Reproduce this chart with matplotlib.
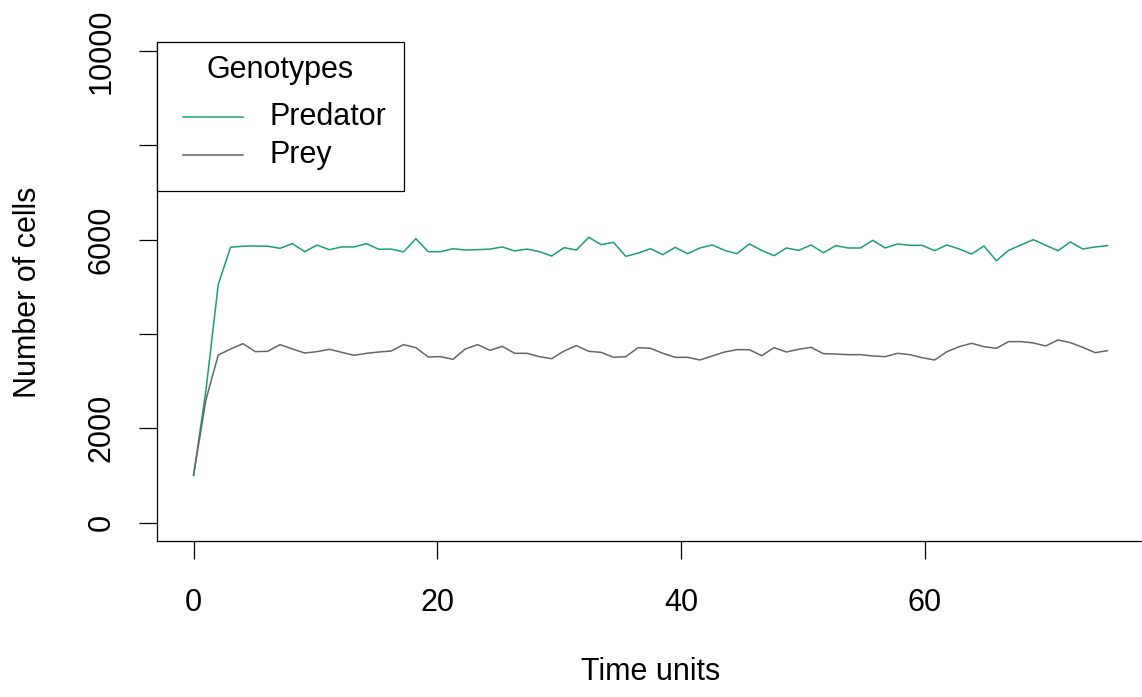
import numpy as np
import matplotlib
matplotlib.use("Agg")
import matplotlib.pyplot as plt
from matplotlib.patches import Rectangle
from matplotlib.lines import Line2D

plt.rcParams['font.family'] = ['Liberation Sans', 'DejaVu Sans']

# 75 samples spread evenly over 0..75 time units
t_start, t_end, n_samples = 0, 75, 75
time_units = np.linspace(t_start, t_end, n_samples)

predator = [1000, 2800, 5050, 5840, 5860, 5865, 5860, 5815, 5915, 5745,
            5885, 5787, 5845, 5845, 5915, 5795, 5800, 5740, 6020, 5745,
            5745, 5808, 5780, 5787, 5800, 5845, 5760, 5800, 5745, 5652,
            5830, 5780, 6050, 5894, 5943, 5645, 5715, 5808, 5681, 5837,
            5702, 5823, 5887, 5773, 5702, 5908, 5773, 5660, 5823, 5773,
            5887, 5723, 5872, 5823, 5823, 5985, 5823, 5908, 5879, 5879,
            5766, 5887, 5802, 5695, 5865, 5553, 5773, 5887, 6000, 5879,
            5766, 5951, 5802, 5844, 5872]

prey = [1000, 2600, 3553, 3680, 3794, 3624, 3631, 3773, 3680, 3596,
        3624, 3674, 3610, 3546, 3589, 3617, 3638, 3773, 3709, 3511,
        3518, 3461, 3680, 3773, 3652, 3737, 3589, 3589, 3518, 3475,
        3638, 3752, 3631, 3610, 3504, 3518, 3709, 3695, 3589, 3504,
        3504, 3447, 3532, 3617, 3666, 3666, 3539, 3709, 3617, 3674,
        3716, 3582, 3574, 3560, 3560, 3532, 3518, 3589, 3560, 3496,
        3447, 3624, 3730, 3801, 3730, 3695, 3837, 3837, 3809, 3745,
        3872, 3815, 3716, 3603, 3645]

series_names = ['Predator', 'Prey']
series_colors = ['#1B9E77', '#666666']

x_ticks = [0, 20, 40, 60]
y_ticks = [0, 2000, 6000, 10000]
y_minor = [4000, 8000]   # ticks without labels (R drops overlapping ones)

W, H = 1142, 697
fig = plt.figure(figsize=(W / 100, H / 100), dpi=100)


def px(x, y):
    """pixel position (from top-left) -> figure fraction"""
    return x / W, (H - y) / H


# axes box in pixel coordinates: left 157, right 1144, top 42, bottom 541
ax = fig.add_axes([157 / W, (H - 541) / H, (1144 - 157) / W, (541 - 42) / H])

for vals, name, col in zip([predator, prey], series_names, series_colors):
    ax.plot(time_units, vals, color=col, lw=1.1, label=name)

ax.set_xlim(-3, 78)
ax.set_ylim(-392, 10192)

fs = 22
ax.set_xticks(x_ticks)
ax.set_yticks(y_ticks + y_minor)
ax.set_yticklabels([str(v) for v in y_ticks] + ['' for v in y_minor])
ax.tick_params(axis='both', length=13, width=0.9, labelsize=fs, direction='out')
ax.tick_params(axis='x', pad=21)
ax.tick_params(axis='y', pad=16, labelrotation=90)
for lab in ax.get_yticklabels():
    lab.set_va('center')

ax.spines['top'].set_visible(False)
ax.spines['right'].set_visible(False)
for s in ['left', 'bottom']:
    ax.spines[s].set_linewidth(0.9)

ax.set_xlabel('Time units', fontsize=fs, va='center')
ax.xaxis.set_label_coords((651 - 157) / 987, (541 - 672) / 499)
ax.set_ylabel('Number of cells', fontsize=fs, va='center')
ax.yaxis.set_label_coords((28 - 157) / 987, (541 - 292) / 499)

# R-style legend box in the top-left corner
x0, y0 = px(157, 191)
x1, y1 = px(404, 42)
fig.add_artist(Rectangle((x0, y0), x1 - x0, y1 - y0, transform=fig.transFigure,
                         fill=True, facecolor='white', edgecolor='black', lw=0.9))
tx, ty = px(280, 70)
fig.text(tx, ty, 'Genotypes', fontsize=fs, ha='center', va='center')
for i, (name, col) in enumerate(zip(series_names, series_colors)):
    row_y = 117 + 38 * i
    lx0, ly = px(183, row_y)
    lx1, _ = px(243, row_y)
    fig.add_artist(Line2D([lx0, lx1], [ly, ly], transform=fig.transFigure,
                          color=col, lw=1.1))
    lbx, _ = px(270, row_y)
    fig.text(lbx, ly, name, fontsize=fs, ha='left', va='center')

fig.savefig('out.png', dpi=100)
